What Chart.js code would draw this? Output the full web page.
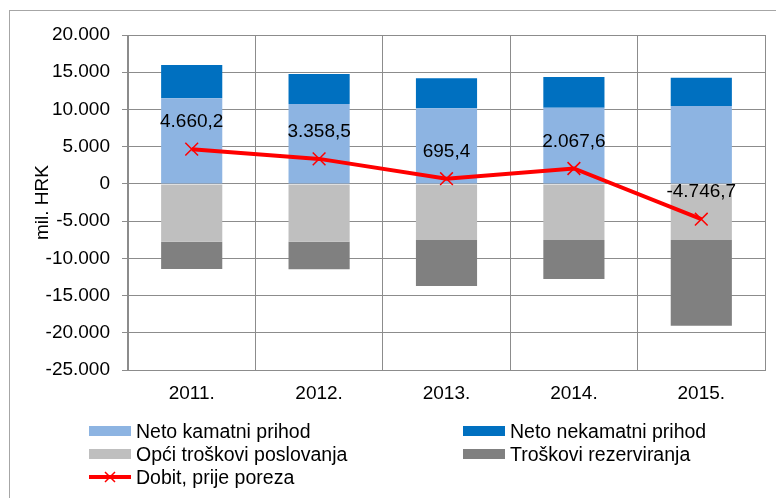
<!DOCTYPE html>
<html>
<head>
<meta charset="utf-8">
<script src="https://cdn.jsdelivr.net/npm/chart.js@4"></script>
<style>
  body { margin: 0; width: 776px; height: 498px; overflow: hidden; background: #fff; font-family: "Liberation Sans", Arial, sans-serif; }
  #frame { position: absolute; left: 9px; top: 10px; width: 800px; height: 520px; border: 1px solid #a6a6a6; }
  #wrap { position: absolute; left: 0; top: 0; width: 776px; height: 498px; }
  .lg { position: absolute; font-size: 19.5px; color: #000; line-height: 22px; height: 22px; white-space: nowrap; }
  .lg .box { display: inline-block; width: 42px; height: 10px; vertical-align: middle; margin-right: 5px; position: relative; top: -2px; }
</style>
</head>
<body>
<div id="frame"></div>
<div id="wrap"><canvas id="chart" width="776" height="498"></canvas></div>
<div id="legend"></div>
<script>
// data (mil. HRK)
const years = ["2011.", "2012.", "2013.", "2014.", "2015."];
const netoKamatni = [11500, 10740, 10160, 10240, 10470];
const netoNekamatni = [4480, 4030, 4030, 4130, 3800];
const opciTroskovi = [-7770, -7770, -7540, -7540, -7540];
const troskoviRezerviranja = [-3670, -3710, -6180, -5240, -11520];
const dobit = [4660.2, 3358.5, 695.4, 2067.6, -4746.7];

const names = ["Neto kamatni prihod", "Neto nekamatni prihod", "Opći troškovi poslovanja", "Troškovi rezerviranja", "Dobit, prije poreza"];
const colors = ["#8DB4E2", "#0070C0", "#BFBFBF", "#808080", "#FF0000"];

const fontFam = "'Liberation Sans', Arial, sans-serif";

// number formatting like 4.660,2 / -25.000
function fmt(v, dec) {
    const neg = v < 0;
    let s = Math.abs(v).toFixed(dec);
    let [i, d] = s.split(".");
    i = i.replace(/\B(?=(\d{3})+(?!\d))/g, ".");
    return (neg ? "-" : "") + i + (d ? "," + d : "");
}

// labels above the profit line
const pointLabels = {
    id: "pointLabels",
    afterDatasetsDraw(chart) {
        const ctx = chart.ctx;
        const meta = chart.getDatasetMeta(4);
        ctx.save();
        ctx.font = "19px " + fontFam;
        ctx.fillStyle = "#000";
        ctx.textAlign = "center";
        ctx.textBaseline = "middle";
        meta.data.forEach((p, i) => {
            ctx.fillText(fmt(dobit[i], 1), p.x, p.y - 27);
        });
        ctx.restore();
    }
};

const barSets = [netoKamatni, netoNekamatni, opciTroskovi, troskoviRezerviranja].map((d, i) => ({
    type: "bar",
    label: names[i],
    data: d,
    backgroundColor: colors[i],
    stack: "s",
    order: 2,
    barPercentage: 0.48,
    categoryPercentage: 1
}));

const chart = new Chart(document.getElementById("chart"), {
    data: {
        labels: years,
        datasets: [...barSets, {
            type: "line",
            label: names[4],
            data: dobit,
            borderColor: colors[4],
            backgroundColor: colors[4],
            borderWidth: 4,
            pointStyle: "crossRot",
            pointRadius: 9,
            pointBorderWidth: 1.5,
            stack: "line",
            order: 0,
            tension: 0
        }]
    },
    options: {
        responsive: false,
        animation: false,
        devicePixelRatio: 1,
        layout: { padding: { top: 35, right: 11, bottom: 98, left: 0 } },
        plugins: { legend: { display: false }, tooltip: { enabled: false } },
        scales: {
            x: {
                stacked: true,
                grid: { color: "#8c8c8c", lineWidth: 1, offset: true, tickLength: 0 },
                border: { color: "#8c8c8c" },
                ticks: { color: "#000", font: { size: 19, family: fontFam }, padding: 12 },
                afterFit(s) { s.height = 30; }
            },
            y: {
                stacked: true,
                min: -25000,
                max: 20000,
                grid: { color: "#8c8c8c", lineWidth: 1, tickLength: 6 },
                border: { color: "#8c8c8c" },
                ticks: {
                    stepSize: 5000,
                    color: "#000",
                    padding: 12,
                    font: { size: 19, family: fontFam },
                    callback: v => fmt(v, 0)
                },
                title: {
                    display: true,
                    text: "mil. HRK",
                    color: "#000",
                    font: { size: 19, family: fontFam },
                    padding: { top: 31, bottom: 0 }
                },
                afterFit(s) { s.width = 128; }
            }
        }
    },
    plugins: [pointLabels]
});

// legend in two columns, like the original
const legendPos = [[89, 420], [463, 420], [89, 443], [463, 443], [89, 466]];
const legend = document.getElementById("legend");
names.forEach((n, i) => {
    const el = document.createElement("div");
    el.className = "lg";
    el.style.left = legendPos[i][0] + "px";
    el.style.top = legendPos[i][1] + "px";
    if (i < 4) {
        el.innerHTML = '<span class="box" style="background:' + colors[i] + '"></span>' + n;
    } else {
        el.innerHTML = '<svg width="42" height="14" style="vertical-align:middle;margin-right:5px;position:relative;top:-2px">' +
            '<line x1="0" y1="7" x2="42" y2="7" stroke="' + colors[i] + '" stroke-width="4"/>' +
            '<path d="M16 2 L26 12 M26 2 L16 12" stroke="' + colors[i] + '" stroke-width="1.5"/></svg>' + n;
    }
    legend.appendChild(el);
});
</script>
</body>
</html>
